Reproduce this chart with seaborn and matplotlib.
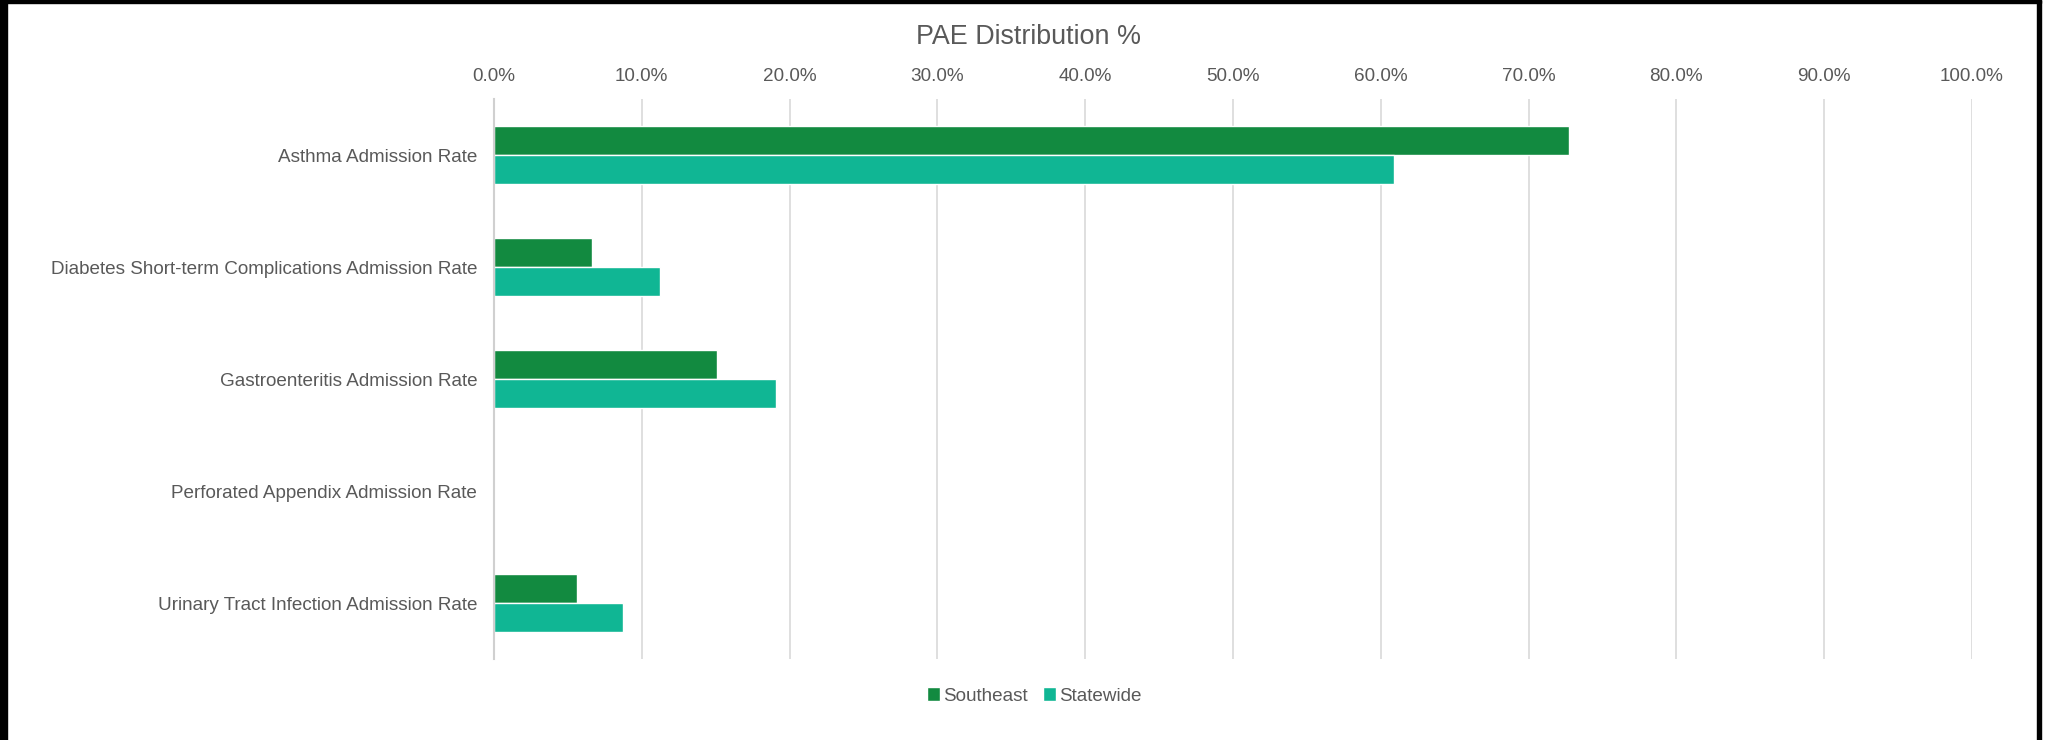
import pandas as pd
import matplotlib.pyplot as plt
import seaborn as sns
from matplotlib.patches import Rectangle
from matplotlib.ticker import FuncFormatter

# 데이터
categories = [
    'Asthma Admission Rate',
    'Diabetes Short-term Complications Admission Rate',
    'Gastroenteritis Admission Rate',
    'Perforated Appendix Admission Rate',
    'Urinary Tract Infection Admission Rate',
]
southeast = [72.7, 6.6, 15.1, 0.0, 5.6]
statewide = [60.9, 11.2, 19.1, 0.0, 8.7]
series_names = ['Southeast', 'Statewide']
colors = ['#128A40', '#10B694']

df = pd.DataFrame({
    'Measure': categories * 2,
    'Region': [series_names[0]] * len(categories) + [series_names[1]] * len(categories),
    'Value': southeast + statewide,
})

sns.set_style('white')
plt.rcParams['font.family'] = ['Liberation Sans', 'DejaVu Sans']
text_color = '#595959'

fig = plt.figure(figsize=(20.51, 7.4), dpi=100)
ax = fig.add_axes([494 / 2051, 1 - 659 / 740, (1972 - 494) / 2051, (659 - 99) / 740])

sns.barplot(data=df, x='Value', y='Measure', hue='Region', orient='h',
            palette=colors, width=0.525, ax=ax, legend=True, saturation=1)

ax.set_xlim(0, 100)
ax.set_ylim(4.5, -0.5)
ax.set_xticks(range(0, 101, 10))
ax.xaxis.set_major_formatter(FuncFormatter(lambda v, p: f'{v:.1f}%'))
ax.xaxis.tick_top()
ax.tick_params(axis='x', length=0, pad=10, labelsize=13.6, labelcolor=text_color)
ax.tick_params(axis='y', length=0, pad=12, labelsize=13.6, labelcolor=text_color)
ax.set_xlabel('')
ax.set_ylabel('')
ax.grid(True, axis='x', color='#dcdcdc', linewidth=1.3)
ax.set_axisbelow(True)
for s in ['top', 'right', 'bottom']:
    ax.spines[s].set_visible(False)
ax.spines['left'].set_color('#d0d0d0')
ax.spines['left'].set_linewidth(1.5)

# 범례
handles, labels = ax.get_legend_handles_labels()
ax.get_legend().remove()
fig.legend(handles, labels, loc='center', bbox_to_anchor=(1034 / 2051, 1 - 696 / 740),
           ncol=2, frameon=False, fontsize=13.6, labelcolor=text_color,
           handlelength=0.7, handleheight=0.7, handletextpad=0.15, columnspacing=0.8)

fig.text(1029 / 2051, 1 - 37 / 740, 'PAE Distribution %', ha='center', va='center',
         fontsize=19.4, color=text_color)

# 테두리
for x0, y0, w, h in [(0, 0, 7, 740), (0, 0, 2041, 3), (2037, 0, 4, 740)]:
    fig.patches.append(Rectangle((x0 / 2051, 1 - (y0 + h) / 740), w / 2051, h / 740,
                                 transform=fig.transFigure, color='black'))

fig.savefig('out.png', dpi=100, facecolor='white')
